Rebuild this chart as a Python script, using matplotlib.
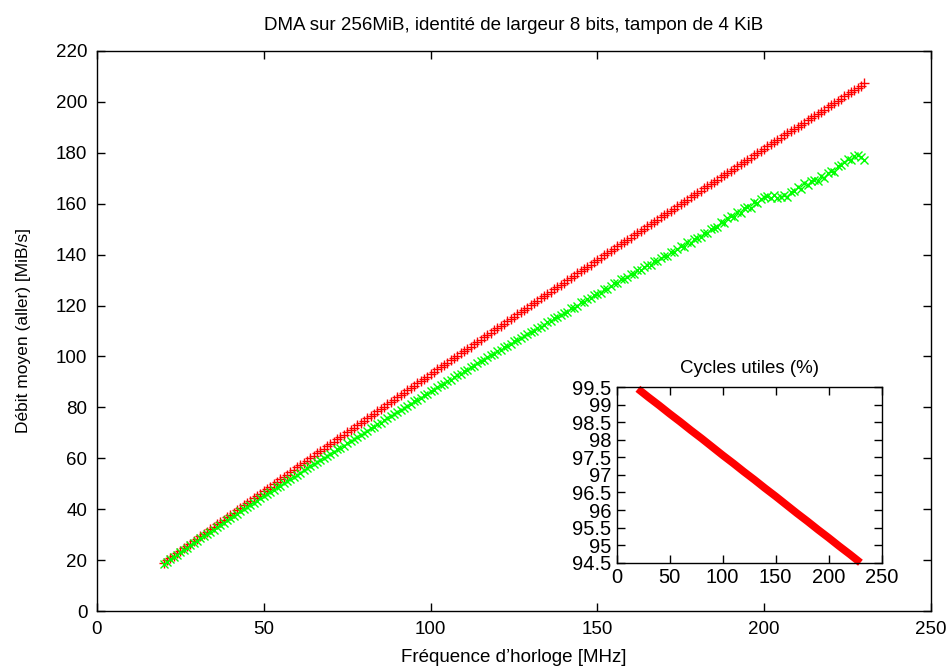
import numpy as np
import matplotlib
matplotlib.use('Agg')
from matplotlib import pyplot as plt
from matplotlib.ticker import FuncFormatter

plt.rcParams['font.family'] = ['Liberation Sans', 'DejaVu Sans']

# frequences mesurees (MHz), pas de 1 MHz
freq = np.arange(20, 231)

# debit theorique (rouge, +)
debit_theo = [
    19.0, 19.9, 20.9, 21.8, 22.7, 23.7, 24.6, 25.6, 26.5, 27.4,
    28.4, 29.3, 30.3, 31.2, 32.1, 33.1, 34.0, 35.0, 35.9, 36.8,
    37.8, 38.7, 39.6, 40.6, 41.5, 42.4, 43.4, 44.3, 45.2, 46.1,
    47.1, 48.0, 48.9, 49.9, 50.8, 51.7, 52.7, 53.6, 54.5, 55.4,
    56.4, 57.3, 58.2, 59.1, 60.1, 61.0, 61.9, 62.8, 63.8, 64.7,
    65.6, 66.5, 67.4, 68.4, 69.3, 70.2, 71.1, 72.0, 73.0, 73.9,
    74.8, 75.7, 76.6, 77.5, 78.5, 79.4, 80.3, 81.2, 82.1, 83.0,
    83.9, 84.9, 85.8, 86.7, 87.6, 88.5, 89.4, 90.3, 91.2, 92.1,
    93.1, 94.0, 94.9, 95.8, 96.7, 97.6, 98.5, 99.4, 100.3, 101.2,
    102.1, 103.0, 103.9, 104.8, 105.7, 106.6, 107.5, 108.4, 109.3, 110.2,
    111.1, 112.0, 112.9, 113.8, 114.7, 115.6, 116.5, 117.4, 118.3, 119.2,
    120.1, 121.0, 121.9, 122.8, 123.7, 124.5, 125.4, 126.3, 127.2, 128.1,
    129.0, 129.9, 130.8, 131.7, 132.6, 133.4, 134.3, 135.2, 136.1, 137.0,
    137.9, 138.8, 139.7, 140.5, 141.4, 142.3, 143.2, 144.1, 145.0, 145.8,
    146.7, 147.6, 148.5, 149.4, 150.2, 151.1, 152.0, 152.9, 153.7, 154.6,
    155.5, 156.4, 157.3, 158.1, 159.0, 159.9, 160.7, 161.6, 162.5, 163.4,
    164.2, 165.1, 166.0, 166.9, 167.7, 168.6, 169.5, 170.3, 171.2, 172.1,
    172.9, 173.8, 174.7, 175.5, 176.4, 177.3, 178.1, 179.0, 179.9, 180.7,
    181.6, 182.5, 183.3, 184.2, 185.0, 185.9, 186.8, 187.6, 188.5, 189.3,
    190.2, 191.1, 191.9, 192.8, 193.6, 194.5, 195.3, 196.2, 197.0, 197.9,
    198.8, 199.6, 200.5, 201.3, 202.2, 203.0, 203.9, 204.7, 205.6, 206.4, 207.3,
]

# debit mesure (vert, x)
debit_mes = [
    18.5, 19.4, 20.3, 21.3, 22.1, 23.1, 24.0, 24.8, 25.8, 26.7,
    27.6, 28.5, 29.4, 30.2, 31.2, 32.0, 32.9, 33.8, 34.7, 35.6,
    36.5, 37.3, 38.3, 39.1, 39.9, 40.9, 41.7, 42.6, 43.4, 44.3,
    45.2, 46.0, 46.9, 47.6, 48.6, 49.3, 50.3, 51.0, 51.9, 52.7,
    53.6, 54.3, 55.3, 56.0, 56.8, 57.7, 58.4, 59.4, 60.1, 60.9,
    61.8, 62.5, 63.5, 64.2, 65.0, 65.9, 66.6, 67.6, 68.3, 69.1,
    70.0, 70.7, 71.7, 72.4, 73.3, 74.0, 74.9, 75.7, 76.6, 77.3,
    78.2, 78.9, 79.9, 80.6, 81.3, 82.4, 83.0, 83.8, 84.8, 85.4,
    86.3, 86.9, 87.9, 88.6, 89.2, 90.4, 90.9, 91.8, 92.7, 93.3,
    94.2, 94.8, 95.9, 96.4, 97.3, 98.3, 98.7, 99.8, 100.4, 101.1,
    102.0, 102.5, 103.7, 104.1, 104.9, 106.0, 106.3, 107.4, 107.9, 108.7,
    109.6, 110.0, 111.3, 111.6, 112.5, 113.6, 113.9, 115.1, 115.4, 116.4,
    117.2, 117.6, 118.9, 119.2, 120.0, 121.3, 121.4, 122.7, 122.9, 124.0,
    124.7, 125.1, 126.4, 126.6, 127.5, 128.8, 128.8, 130.3, 130.4, 131.4,
    132.2, 132.5, 133.8, 133.9, 135.1, 135.9, 136.0, 137.6, 137.5, 138.7,
    139.4, 139.6, 141.1, 141.0, 142.4, 143.2, 143.0, 144.9, 144.6, 146.0,
    146.6, 147.0, 148.6, 148.4, 150.2, 150.6, 150.9, 152.8, 152.3, 154.2,
    155.0, 154.8, 156.9, 156.5, 158.4, 158.9, 158.3, 160.8, 160.1, 161.9,
    162.5, 162.9, 162.4, 163.4, 162.1, 162.6, 163.5, 162.8, 164.7, 165.1,
    166.5, 165.6, 168.2, 167.4, 169.0, 169.5, 168.8, 170.9, 170.2, 172.1,
    173.0, 172.6, 174.8, 175.2, 176.4, 177.5, 177.0, 178.8, 179.3, 178.4, 177.2,
]

# cycles utiles (%) pour l'encart
freq_cyc = [20, 30, 40, 50, 60, 70, 80, 90, 100, 110, 120,
            130, 140, 150, 160, 170, 180, 190, 200, 210, 220, 230]
cycles = [99.45, 99.21, 98.98, 98.74, 98.51, 98.27, 98.04, 97.80, 97.56, 97.33, 97.09,
          96.86, 96.62, 96.39, 96.15, 95.91, 95.68, 95.44, 95.21, 94.97, 94.74, 94.50]

fs = 13.5
fig = plt.figure(figsize=(9.48, 6.68), dpi=100)
ax = fig.add_axes([0.1023, 0.0853, 0.8797, 0.8384])

ax.plot(freq, debit_theo, ls='none', marker='+', ms=6.5, mew=1.0, c='#ff0000')
ax.plot(freq, debit_mes, ls='none', marker='x', ms=5.5, mew=1.0, c='#00ff00')

ax.set_xlim(0, 250)
ax.set_ylim(0, 220)
ax.set_xticks(range(0, 251, 50))
ax.set_yticks(range(0, 221, 20))
ax.tick_params(direction='in', top=True, right=True, length=6, width=1,
               labelsize=fs, pad=7)
ax.set_title("DMA sur 256MiB, identité de largeur 8 bits, tampon de 4 KiB",
             fontsize=fs, pad=15)
ax.set_xlabel("Fréquence d’horloge [MHz]", fontsize=fs, labelpad=8)
ax.set_ylabel("Débit moyen (aller) [MiB/s]", fontsize=12.5, labelpad=18)
for s in ax.spines.values():
    s.set_linewidth(1)

# encart
axi = fig.add_axes([0.6505, 0.1576, 0.2795, 0.263])
axi.plot(freq_cyc, cycles, c='#ff0000', lw=5.5, clip_on=False, solid_capstyle='butt')
axi.set_xlim(0, 250)
axi.set_ylim(94.5, 99.5)
axi.set_xticks(range(0, 251, 50))
axi.set_yticks(np.arange(94.5, 99.51, 0.5))
axi.yaxis.set_major_formatter(FuncFormatter(lambda v, p: '%g' % v))
axi.tick_params(direction='in', top=True, right=True, length=6, width=1,
                labelsize=14.5, pad=4)
axi.set_title("Cycles utiles (%)", fontsize=fs, pad=10)
for s in axi.spines.values():
    s.set_linewidth(1)

plt.savefig('out.png', dpi=100)
